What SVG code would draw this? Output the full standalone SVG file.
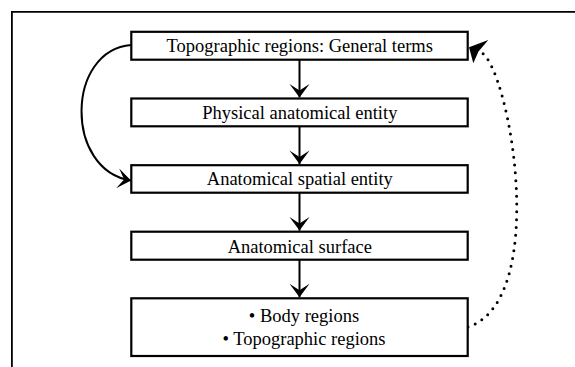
<svg xmlns="http://www.w3.org/2000/svg" width="575" height="367" viewBox="0 0 575 367">
  <style>
    .box { fill: #ffffff; stroke: #000000; stroke-width: 2.2; }
    .label { font-family: "Liberation Serif", "Times New Roman", serif; font-size: 18.5px; fill: #000000; text-anchor: middle; }
    .link { fill: none; stroke: #000000; stroke-width: 2; }
    .dotted { fill: none; stroke: #000000; stroke-width: 3; stroke-linecap: round; stroke-dasharray: 0 7.8; }
  </style>
  <defs>
    <marker id="head" markerUnits="userSpaceOnUse" markerWidth="16" markerHeight="24" viewBox="-14 -11 16 22" refX="0" refY="0" orient="auto">
      <path d="M0,0 L-13.5,-10 L-7,0 L-13.5,10 Z" fill="#000000"/>
    </marker>
  </defs>

  <rect width="575" height="367" fill="#ffffff"/>

  <!-- outer frame: top and left edges only -->
  <path d="M11.9,367 L11.9,11.9 L575,11.9" fill="none" stroke="#000000" stroke-width="1.8"/>

  <g id="connectors">
    <line class="link" x1="299.5" y1="59.7" x2="299.5" y2="97.4" marker-end="url(#head)"/>
    <line class="link" x1="299.5" y1="126.3" x2="299.5" y2="164.1" marker-end="url(#head)"/>
    <line class="link" x1="299.5" y1="192.7" x2="299.5" y2="230.6" marker-end="url(#head)"/>
    <line class="link" x1="299.5" y1="259.7" x2="299.5" y2="297.2" marker-end="url(#head)"/>
    <path class="link" d="M131.3,45 C66,50 64,170 131,180.5" marker-end="url(#head)"/>
    <path class="dotted" d="M468,327 C550,300 510,70 481.5,52.5"/>
    <path d="M469,47.3 L488.3,40 L478.5,51.5 L473.3,63.3 Z" fill="#000000"/>
  </g>

  <g id="topographic-general">
    <rect class="box" x="131.3" y="31.8" width="336.4" height="27.9"/>
    <text class="label" x="299.8" y="52">Topographic regions: General terms</text>
  </g>

  <g id="physical-entity">
    <rect class="box" x="131.3" y="98.5" width="336.4" height="27.8"/>
    <text class="label" x="299.8" y="118.5">Physical anatomical entity</text>
  </g>

  <g id="spatial-entity">
    <rect class="box" x="131.3" y="165.2" width="336.4" height="27.5"/>
    <text class="label" x="299.8" y="185.2">Anatomical spatial entity</text>
  </g>

  <g id="anatomical-surface">
    <rect class="box" x="131.3" y="231.7" width="336.4" height="28"/>
    <text class="label" x="299.8" y="252.7">Anatomical surface</text>
  </g>

  <g id="regions">
    <rect class="box" x="131.3" y="298.3" width="336.4" height="57.7"/>
    <text class="label" x="304" y="322.3">• Body regions</text>
    <text class="label" x="304" y="345">• Topographic regions</text>
  </g>
</svg>
